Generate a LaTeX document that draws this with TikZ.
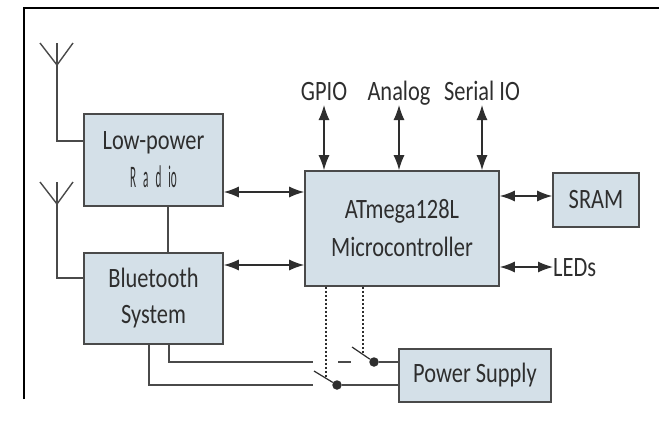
\documentclass[tikz,border=0pt]{standalone}
\usepackage{fontspec}
\usepackage{graphicx}
\setmainfont[FakeStretch=0.8]{Carlito}
\usetikzlibrary{arrows.meta,calc}
\definecolor{boxfill}{HTML}{D4E0E8}
\definecolor{linecol}{HTML}{4A4A4A}
\definecolor{txt}{HTML}{2E2E2E}
\tikzset{
  blk/.style={draw=linecol,line width=1.6pt,fill=boxfill,text=txt,font=\fontsize{28}{36}\selectfont,align=center,inner sep=0pt},
  lbl/.style={text=txt,font=\fontsize{28}{36}\selectfont,inner sep=0pt},
  wire/.style={draw=linecol,line width=1.4pt},
  dbl/.style={draw=txt,line width=1.3pt,{Latex[length=15pt,width=11pt]}-{Latex[length=15pt,width=11pt]}},
  ctl/.style={draw=txt,line width=1.8pt,dash pattern=on 2pt off 2pt},
  blade/.style={draw=txt,line width=1.2pt},
  contact/.style={circle,fill=txt,draw=none,minimum size=9.5pt,inner sep=0pt}
}
\begin{document}
\begin{tikzpicture}[x=1pt,y=-1pt]
\useasboundingbox (0,0) rectangle (659,429);
\fill[white] (0,0) rectangle (659,429);
\draw[black,line width=1.5pt] (24,399) -- (24,8) -- (659,8);

\node[blk,minimum width=139pt,minimum height=92pt] (radio) at (153.5,160) {Low-power\\[2pt]\scalebox{0.5}[1.12]{R\enspace a\enspace d\enspace io}};
\node[blk,minimum width=139pt,minimum height=91pt] (bt) at (153.5,298.5) {Bluetooth\\System};
\node[blk,minimum width=194pt,minimum height=115pt] (mcu) at (402,228.5) {ATmega128L\\[2pt]Microcontroller};
\node[blk,minimum width=86pt,minimum height=54pt] (sram) at (596,200) {SRAM};
\node[blk,minimum width=152pt,minimum height=53pt] (psu) at (475,375.5) {Power Supply};

\node[lbl,anchor=base] (gpio) at (324,100) {GPIO};
\node[lbl,anchor=base] (analog) at (399,100) {Analog};
\node[lbl,anchor=base] (serial) at (482,100) {Serial IO};
\node[lbl,anchor=west] (leds) at (553,268) {LEDs};

% antennas
\coordinate (a1) at (57,65);
\coordinate (a2) at (57,204);
\draw[wire] (40,43) -- (a1) -- (73,43);
\draw[wire] (57,43) -- (a1) |- (radio.west |- 0,141);
\draw[wire] (40,182) -- (a2) -- (73,182);
\draw[wire] (57,182) -- (a2) |- (bt.west |- 0,278);

\draw[wire] (radio.south -| 168,0) -- (bt.north -| 168,0);

% bidirectional links
\draw[dbl] (radio.east |- 0,192) -- (mcu.west |- 0,192);
\draw[dbl] (bt.east |- 0,265) -- (mcu.west |- 0,265);
\draw[dbl] (mcu.east |- 0,196) -- (sram.west |- 0,196);
\draw[dbl] (mcu.east |- 0,267) -- (leds.west |- 0,267);
\draw[dbl] ($(gpio.base)+(0,5)$) -- (mcu.north -| gpio.base);
\draw[dbl] ($(analog.base)+(0,5)$) -- (mcu.north -| analog.base);
\draw[dbl] ($(serial.base)+(0,5)$) -- (mcu.north -| serial.base);

% switches
\node[contact] (c1) at (337,385) {};
\node[contact] (c2) at (374,362) {};
\coordinate (b1) at (314,371);
\coordinate (b2) at (352,347);
\draw[blade] (b1) -- (c1);
\draw[blade] (b2) -- (c2);
\draw[wire] (c1) -- (psu.west |- c1);
\draw[wire] (c2) -- (psu.west |- c2);
\coordinate (e1) at (313,385);
\coordinate (e2) at (313,362);
\draw[wire] (bt.south -| 149,0) |- (e1);
\draw[wire] (bt.south -| 169,0) |- (e2);
\coordinate (g1) at (338,362);
\coordinate (g2) at (351,362);
\draw[wire] (g1) -- (g2);
\coordinate (k1) at (326,377);
\coordinate (k2) at (363,354);
\draw[ctl] (mcu.south -| k1) -- (k1);
\draw[ctl] (mcu.south -| k2) -- (k2);
\end{tikzpicture}
\end{document}
